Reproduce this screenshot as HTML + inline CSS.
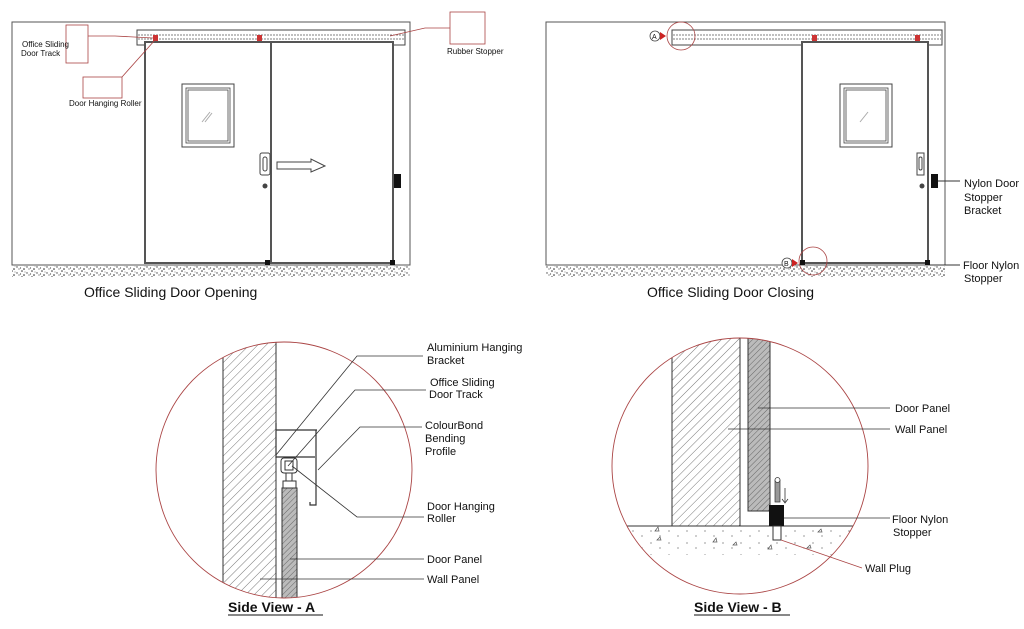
<!DOCTYPE html>
<html><head><meta charset="utf-8"><style>
html,body{margin:0;padding:0;background:#fff}
svg{display:block}
text{font-family:"Liberation Sans",Arial,sans-serif;fill:#111}
</style></head><body>
<svg width="1024" height="629" viewBox="0 0 1024 629" xmlns="http://www.w3.org/2000/svg">
<defs>
<pattern id="hatch" width="6" height="6" patternUnits="userSpaceOnUse" patternTransform="rotate(45)">
<line x1="0" y1="0" x2="0" y2="6" stroke="#555" stroke-width="0.8"/></pattern>
<pattern id="xh" width="4" height="4" patternUnits="userSpaceOnUse" patternTransform="rotate(45)">
<rect width="4" height="4" fill="#bbb"/><line x1="0" y1="0" x2="0" y2="4" stroke="#666" stroke-width="1"/></pattern>
<pattern id="stip" width="10" height="6" patternUnits="userSpaceOnUse">
<circle cx="2" cy="1" r="0.8" fill="#333"/><circle cx="7" cy="3" r="0.7" fill="#444"/><circle cx="4" cy="5" r="0.8" fill="#222"/><circle cx="9" cy="5" r="0.6" fill="#555"/><circle cx="5" cy="2" r="0.5" fill="#666"/><circle cx="0.5" cy="4" r="0.6" fill="#444"/></pattern>
<pattern id="stip2" width="18" height="12" patternUnits="userSpaceOnUse">
<circle cx="3" cy="3" r="0.6" fill="#555"/><circle cx="12" cy="8" r="0.6" fill="#555"/></pattern>
</defs>

<!-- ===== Opening view ===== -->
<rect x="12" y="22" width="398" height="243" fill="none" stroke="#555" stroke-width="1"/>
<rect x="12" y="266" width="398" height="11" fill="url(#stip)"/>
<rect x="137" y="30" width="268" height="15" fill="#fff" stroke="#444" stroke-width="1"/>
<line x1="138" y1="35" x2="404" y2="35" stroke="#555" stroke-dasharray="2,1" stroke-width="0.7"/>
<line x1="138" y1="39" x2="404" y2="39" stroke="#555" stroke-dasharray="2,1" stroke-width="0.7"/>
<rect x="145" y="42" width="126" height="221" fill="#fff" stroke="#555" stroke-width="2"/>
<rect x="271" y="42" width="122" height="221" fill="#fff" stroke="#555" stroke-width="2"/>
<rect x="182" y="84" width="52" height="63" fill="none" stroke="#444" stroke-width="1"/>
<rect x="186" y="88" width="44" height="55" fill="none" stroke="#444" stroke-width="0.8"/>
<rect x="188" y="90" width="40" height="51" fill="none" stroke="#444" stroke-width="0.8"/>
<line x1="202" y1="122" x2="210" y2="112" stroke="#aaa"/><line x1="205" y1="122" x2="212" y2="113" stroke="#aaa"/>
<rect x="260" y="153" width="10" height="22" rx="2" fill="#fff" stroke="#444"/>
<rect x="263" y="157" width="4" height="14" rx="2" fill="none" stroke="#444"/>
<circle cx="265" cy="186" r="2.5" fill="#444"/>
<path d="M277,162 H311 V159 L325,166 L311,172 V169 H277 Z" fill="#fff" stroke="#444"/>
<rect x="394" y="174" width="7" height="14" fill="#111"/>
<rect x="265" y="260" width="5" height="5" fill="#111"/><rect x="390" y="260" width="5" height="5" fill="#111"/>
<rect x="153" y="35" width="5" height="6" fill="#c33"/><rect x="257" y="35" width="5" height="6" fill="#c33"/>
<!-- callouts -->
<rect x="66" y="25" width="22" height="38" fill="none" stroke="#a44" stroke-width="0.8"/>
<path d="M88,36 H115 L153,38" fill="none" stroke="#a44" stroke-width="0.8"/>
<text x="22" y="47" font-size="8">Office Sliding</text><text x="21" y="56" font-size="8">Door Track</text>
<rect x="83" y="77" width="39" height="21" fill="none" stroke="#a44" stroke-width="0.8"/>
<line x1="122" y1="77" x2="155" y2="40" stroke="#a44" stroke-width="0.8"/>
<text x="69" y="106" font-size="8">Door Hanging Roller</text>
<rect x="450" y="12" width="35" height="32" fill="none" stroke="#a44" stroke-width="0.8"/>
<path d="M450,28 H425 L390,36" fill="none" stroke="#a44" stroke-width="0.8"/>
<text x="447" y="54" font-size="8">Rubber Stopper</text>
<text x="84" y="297" font-size="14">Office Sliding Door Opening</text>

<!-- ===== Closing view ===== -->
<rect x="546" y="22" width="399" height="243" fill="none" stroke="#555" stroke-width="1"/>
<rect x="546" y="266" width="399" height="11" fill="url(#stip)"/>
<rect x="672" y="30" width="270" height="15" fill="#fff" stroke="#444"/>
<line x1="673" y1="35" x2="941" y2="35" stroke="#555" stroke-dasharray="2,1" stroke-width="0.7"/>
<line x1="673" y1="39" x2="941" y2="39" stroke="#555" stroke-dasharray="2,1" stroke-width="0.7"/>
<rect x="802" y="42" width="126" height="221" fill="#fff" stroke="#555" stroke-width="2"/>
<rect x="840" y="84" width="52" height="63" fill="none" stroke="#444"/>
<rect x="844" y="88" width="44" height="55" fill="none" stroke="#444" stroke-width="0.8"/>
<rect x="846" y="90" width="40" height="51" fill="none" stroke="#444" stroke-width="0.8"/>
<line x1="860" y1="122" x2="868" y2="112" stroke="#aaa"/>
<rect x="917" y="153" width="7" height="22" fill="#fff" stroke="#444"/>
<rect x="919" y="157" width="3" height="13" rx="1.5" fill="none" stroke="#444"/>
<circle cx="922" cy="186" r="2.5" fill="#444"/>
<rect x="931" y="174" width="7" height="14" fill="#111"/>
<rect x="800" y="260" width="5" height="5" fill="#111"/><rect x="925" y="260" width="5" height="5" fill="#111"/>
<rect x="812" y="35" width="5" height="6" fill="#c33"/><rect x="915" y="35" width="5" height="6" fill="#c33"/>
<circle cx="681" cy="36" r="14" fill="none" stroke="#a44" stroke-width="0.8"/>
<circle cx="813" cy="261" r="14" fill="none" stroke="#a44" stroke-width="0.8"/>
<circle cx="655" cy="36" r="5" fill="#fff" stroke="#444" stroke-width="0.8"/><text x="652" y="39" font-size="7">A</text>
<path d="M660,32 L666,36 L660,40 Z" fill="#c22"/>
<circle cx="787" cy="263" r="5" fill="#fff" stroke="#444" stroke-width="0.8"/><text x="784" y="266" font-size="7">B</text>
<path d="M792,259 L798,263 L792,267 Z" fill="#c22"/>
<line x1="938" y1="181" x2="960" y2="181" stroke="#333"/>
<line x1="930" y1="265" x2="960" y2="265" stroke="#333"/>
<text x="964" y="187" font-size="11">Nylon Door</text><text x="964" y="201" font-size="11">Stopper</text><text x="964" y="214" font-size="11">Bracket</text>
<text x="963" y="269" font-size="11">Floor Nylon</text><text x="964" y="282" font-size="11">Stopper</text>
<text x="647" y="297" font-size="14">Office Sliding Door Closing</text>

<!-- ===== Side View A ===== -->
<clipPath id="ca"><circle cx="284" cy="470" r="128"/></clipPath>
<g clip-path="url(#ca)">
<rect x="223" y="330" width="53" height="280" fill="url(#hatch)" stroke="#333"/>
<rect x="282" y="488" width="15" height="120" fill="url(#xh)" stroke="#333"/>
</g>
<circle cx="284" cy="470" r="128" fill="none" stroke="#a44" stroke-width="0.9"/>
<path d="M276,423 V458 M276,430 H317 M276,457 H315" fill="none" stroke="#333" stroke-width="1.2"/>
<path d="M316,430 V505 H310 V502" fill="none" stroke="#333" stroke-width="1.2"/>
<rect x="281" y="458" width="16" height="15" rx="3" fill="#fff" stroke="#333"/>
<rect x="285" y="461" width="8" height="9" fill="#fff" stroke="#333"/>
<rect x="286" y="473" width="6" height="9" fill="#fff" stroke="#333"/>
<rect x="283" y="481" width="13" height="7" fill="#fff" stroke="#333"/>
<g stroke="#333" stroke-width="0.8" fill="none">
<path d="M276,455 L357,356 H423"/>
<path d="M288,466 L355,390 H426"/>
<path d="M318,470 L360,427 H422"/>
<path d="M292,466 L357,517 H424"/>
<line x1="290" y1="559" x2="424" y2="559"/>
<line x1="260" y1="579" x2="424" y2="579"/>
</g>
<g font-size="11">
<text x="427" y="351">Aluminium Hanging</text><text x="427" y="364">Bracket</text>
<text x="430" y="386">Office Sliding</text><text x="429" y="398">Door Track</text>
<text x="425" y="429">ColourBond</text><text x="425" y="442">Bending</text><text x="425" y="455">Profile</text>
<text x="427" y="510">Door Hanging</text><text x="427" y="522">Roller</text>
<text x="427" y="563">Door Panel</text><text x="427" y="583">Wall Panel</text>
</g>
<text x="228" y="612" font-size="14" font-weight="bold">Side View - A</text>
<line x1="228" y1="615" x2="323" y2="615" stroke="#111"/>

<!-- ===== Side View B ===== -->
<clipPath id="cb"><circle cx="740" cy="466" r="128"/></clipPath>
<g clip-path="url(#cb)">
<rect x="612" y="527" width="260" height="28" fill="url(#stip2)"/>
<rect x="672" y="330" width="68" height="196" fill="url(#hatch)" stroke="#333"/>
<rect x="748" y="330" width="22" height="181" fill="url(#xh)" stroke="#333"/>
<line x1="612" y1="526" x2="870" y2="526" stroke="#333"/>
</g>
<g fill="none" stroke="#555" stroke-width="0.7">
<path d="M655,531 l3,-4 l1,4 z"/><path d="M657,540 l3,-3 l1,3 z"/><path d="M713,542 l3,-4 l1,4 z"/>
<path d="M733,545 l3,-3 l1,3 z"/><path d="M768,549 l3,-4 l1,4 z"/><path d="M818,532 l3,-3 l1,3 z"/><path d="M807,548 l3,-3 l1,3 z"/>
</g>
<circle cx="740" cy="466" r="128" fill="none" stroke="#a44" stroke-width="0.9"/>
<rect x="769" y="505" width="15" height="21" fill="#111"/>
<rect x="773" y="526" width="8" height="14" fill="#fff" stroke="#333"/>
<rect x="775" y="480" width="5" height="22" fill="#999" stroke="#333" stroke-width="0.7"/>
<circle cx="777.5" cy="480" r="2.5" fill="#fff" stroke="#333" stroke-width="0.7"/>
<line x1="785" y1="488" x2="785" y2="502" stroke="#333" stroke-width="0.8"/>
<path d="M782,499 L785,503 L788,499" fill="none" stroke="#333" stroke-width="0.8"/>
<g stroke="#333" stroke-width="0.8">
<line x1="758" y1="408" x2="890" y2="408"/>
<line x1="728" y1="429" x2="890" y2="429"/>
<line x1="784" y1="518" x2="890" y2="518"/>
<line x1="781" y1="540" x2="862" y2="568" stroke="#a44"/>
</g>
<g font-size="11">
<text x="895" y="412">Door Panel</text><text x="895" y="433">Wall Panel</text>
<text x="892" y="523">Floor Nylon</text><text x="893" y="536">Stopper</text>
<text x="865" y="572">Wall Plug</text>
</g>
<text x="694" y="612" font-size="14" font-weight="bold">Side View - B</text>
<line x1="694" y1="615" x2="790" y2="615" stroke="#111"/>
</svg>
</body></html>
